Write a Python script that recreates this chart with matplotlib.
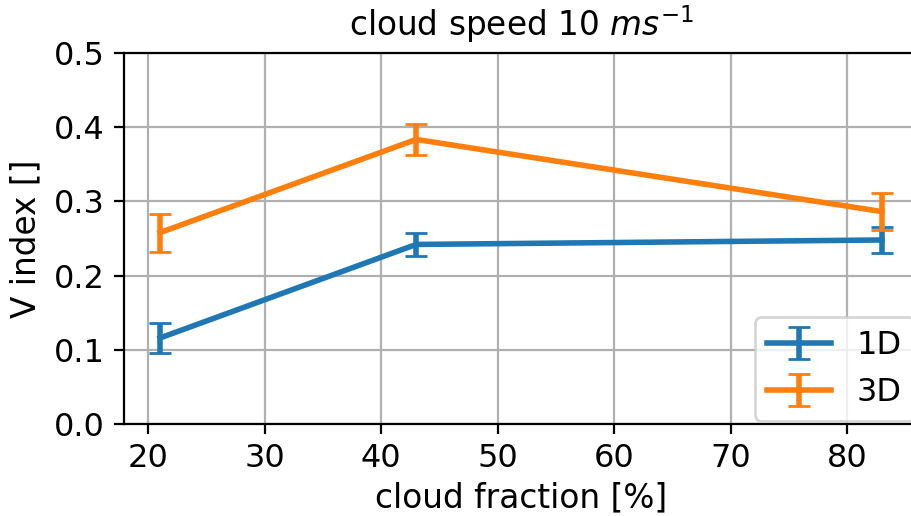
import matplotlib
matplotlib.use("Agg")
import matplotlib.pyplot as plt

# cloud fraction of each scene [%]
cloud_fraction = [21, 43, 83]

# V index (mean and spread) for the 1D and 3D radiative transfer runs
v_1d = [0.116, 0.242, 0.248]
err_1d = [0.0206, 0.0157, 0.018]
v_3d = [0.258, 0.3835, 0.2863]
err_3d = [0.0256, 0.021, 0.0246]

fig = plt.figure(figsize=(4.56, 2.58), dpi=200)
ax = fig.add_axes([124 / 912, 92 / 516, (918 - 124) / 912, 371 / 516])

ax.errorbar(cloud_fraction, v_1d, yerr=err_1d, capsize=4, linewidth=2, label="1D")
ax.errorbar(cloud_fraction, v_3d, yerr=err_3d, capsize=4, linewidth=2, label="3D")

ax.set_ylim(0, 0.5)
ax.set_yticks([0.0, 0.1, 0.2, 0.3, 0.4, 0.5])
ax.set_xticks([20, 30, 40, 50, 60, 70, 80])
ax.tick_params(labelsize=11.5)
ax.grid(True)

ax.set_title("cloud speed 10 $ms^{-1}$", fontsize=11.8)
ax.set_xlabel("cloud fraction [%]", fontsize=11.8, labelpad=2.5)
ax.set_ylabel("V index []", fontsize=11.8)
ax.legend(loc="lower right", fontsize=11.5, bbox_to_anchor=(1.0, 0.0), borderaxespad=0.1)

fig.savefig("out.png", dpi=200)
